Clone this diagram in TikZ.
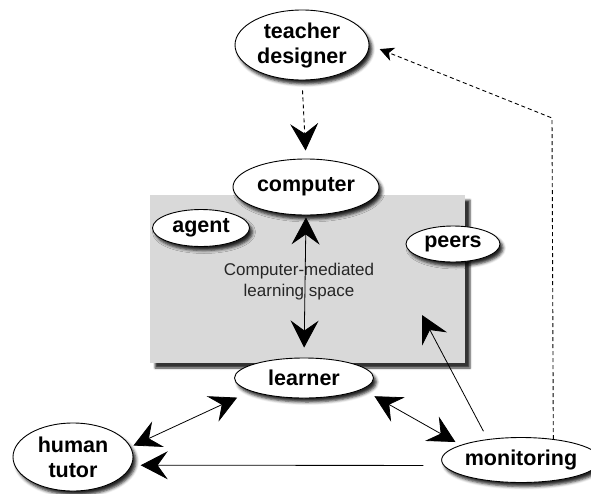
\documentclass[tikz,border=0pt]{standalone}
\usepackage{fontspec}
\setmainfont{Liberation Sans}
\usetikzlibrary{arrows.meta,shapes.geometric,shadows.blur}
\tikzset{>={Stealth[length=27pt,width=28pt,inset=10pt]}}
\tikzset{
	actor/.style={ellipse,draw,line width=0.9pt,fill=white,inner sep=0pt,align=center,
		font=\bfseries\fontsize{21.5}{25}\selectfont,
		blur shadow={shadow xshift=3pt,shadow yshift=-4pt,shadow opacity=85,shadow blur radius=3pt}},
	space/.style={fill=black!15,inner sep=0pt,
		blur shadow={shadow xshift=5pt,shadow yshift=-5pt,shadow opacity=80,shadow blur radius=2pt}},
	link/.style={line width=0.8pt},
	trace/.style={line width=0.9pt,dash pattern=on 4pt off 3pt}
}

\begin{document}
\begin{tikzpicture}[x=1pt,y=-1pt]
	\useasboundingbox (0,0) rectangle (591,493);
	% learning space
	\node[space,minimum width=315pt,minimum height=168pt] (space) at (307.5,279) {};
	\node[font=\fontsize{17}{21}\selectfont,align=center,text=black!85] (label) at (299,282) {Computer-mediated\\learning space};
	% actors
	\node[actor,minimum width=134pt,minimum height=70pt] (teacher) at (302,45) {teacher\\designer};
	\node[actor,minimum width=146pt,minimum height=56pt] (computer) at (306,187) {computer};
	\node[actor,minimum width=97pt,minimum height=37pt] (agent) at (201,228) {agent};
	\node[actor,minimum width=94pt,minimum height=36pt] (peers) at (453,244) {peers};
	\node[actor,minimum width=139pt,minimum height=40pt] (learner) at (304,378) {learner};
	\node[actor,minimum width=120pt,minimum height=68pt] (tutor) at (73,457) {human\\tutor};
	\node[actor,minimum width=138pt,minimum height=45pt] (monitor) at (521,460) {monitoring};
	\coordinate (bend) at (552,118);
	\coordinate (hit) at (422,315);
	% connectors
	\draw[trace,->,shorten <=10pt,shorten >=8pt] (teacher.south) -- (computer.north);
	\draw[link,<->,shorten <=2pt,shorten >=10pt] (computer.south) -- (learner.north);
	\draw[link,<->,shorten <=15pt,shorten >=3pt] (learner.194) -- (tutor.10);
	\draw[link,<->,shorten <=14pt,shorten >=6pt] (learner.349) -- (monitor.166);
	\draw[link,->,shorten <=9pt] (monitor.148) -- (hit);
	\draw[link,->,shorten <=20pt,shorten >=9pt] (monitor.184) -- (tutor.352);
	\draw[trace,-{Stealth[length=14pt,width=14pt,inset=4pt]},shorten >=11pt] (monitor.33) -- (bend) -- (teacher.east);
\end{tikzpicture}
\end{document}
